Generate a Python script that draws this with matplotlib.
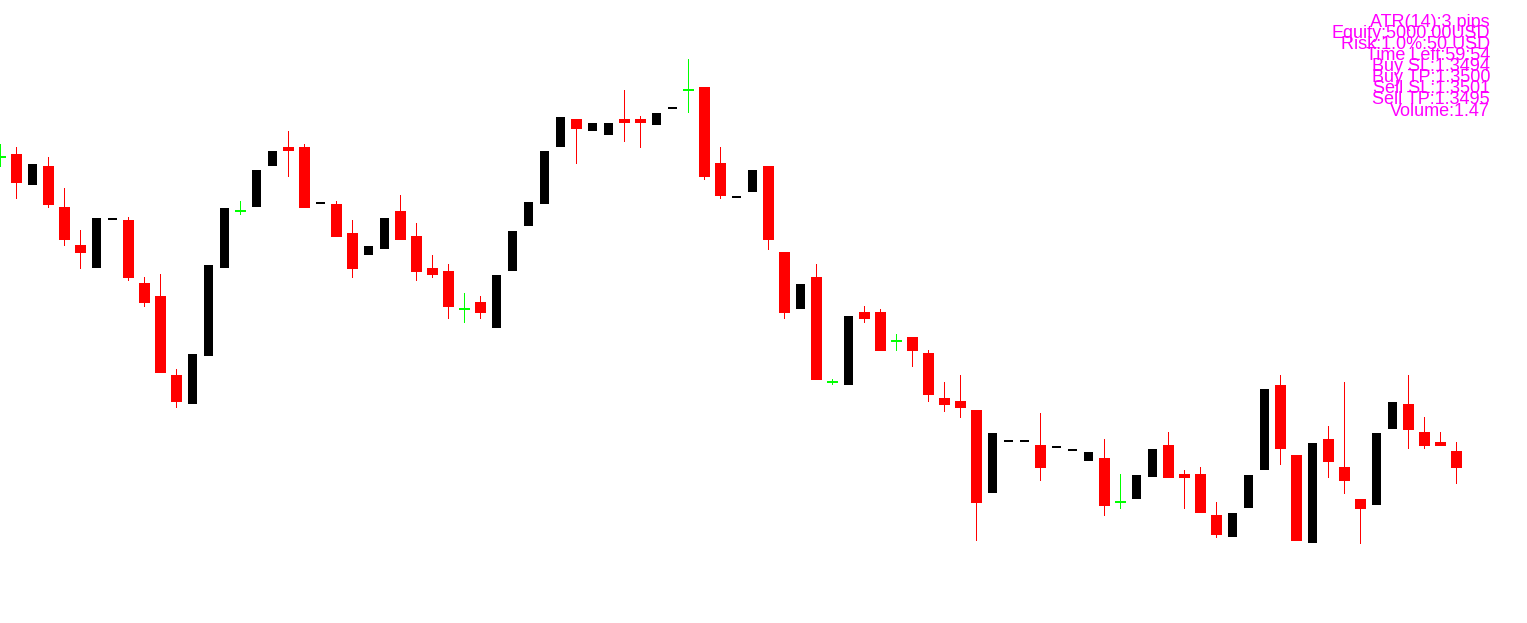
import matplotlib
matplotlib.use("Agg")
import matplotlib.pyplot as plt
import numpy as np

# OHLC data
opens = [1.35343, 1.35346, 1.35315, 1.35334, 1.35293, 1.35255, 1.35232, 1.35280, 1.35280, 1.35217,
         1.35204, 1.35125, 1.35096, 1.35144, 1.35232, 1.35289, 1.35293, 1.35334, 1.35353, 1.35353,
         1.35296, 1.35296, 1.35267, 1.35245, 1.35251, 1.35289, 1.35264, 1.35232, 1.35229, 1.35191,
         1.35198, 1.35172, 1.35229, 1.35274, 1.35296, 1.35353, 1.35381, 1.35369, 1.35365, 1.35381,
         1.35381, 1.35375, 1.35391, 1.35410, 1.35413, 1.35337, 1.35302, 1.35308, 1.35334, 1.35248,
         1.35191, 1.35223, 1.35118, 1.35115, 1.35188, 1.35188, 1.35159, 1.35163, 1.35147, 1.35102,
         1.35099, 1.35090, 1.35007, 1.35058, 1.35058, 1.35055, 1.35052, 1.35049, 1.35039, 1.35042,
         1.34998, 1.35001, 1.35023, 1.35055, 1.35026, 1.35026, 1.34985, 1.34963, 1.34992, 1.35030,
         1.35115, 1.35045, 1.34957, 1.35061, 1.35033, 1.35001, 1.34995, 1.35071, 1.35096, 1.35068,
         1.35058, 1.35049]
highs = [1.35356, 1.35353, 1.35336, 1.35343, 1.35312, 1.35270, 1.35282, 1.35282, 1.35283, 1.35223,
         1.35226, 1.35131, 1.35146, 1.35235, 1.35292, 1.35299, 1.35330, 1.35349, 1.35369, 1.35356,
         1.35298, 1.35299, 1.35280, 1.35254, 1.35282, 1.35305, 1.35277, 1.35245, 1.35236, 1.35207,
         1.35204, 1.35225, 1.35269, 1.35298, 1.35349, 1.35383, 1.35381, 1.35377, 1.35377, 1.35410,
         1.35384, 1.35387, 1.35393, 1.35441, 1.35413, 1.35353, 1.35304, 1.35330, 1.35334, 1.35248,
         1.35216, 1.35236, 1.35121, 1.35184, 1.35194, 1.35191, 1.35166, 1.35163, 1.35150, 1.35118,
         1.35125, 1.35090, 1.35067, 1.35060, 1.35060, 1.35087, 1.35054, 1.35051, 1.35048, 1.35061,
         1.35026, 1.35025, 1.35051, 1.35068, 1.35030, 1.35033, 1.34998, 1.34987, 1.35025, 1.35111,
         1.35125, 1.35045, 1.35057, 1.35074, 1.35118, 1.35001, 1.35067, 1.35098, 1.35125, 1.35083,
         1.35068, 1.35058]
lows = [1.35333, 1.35301, 1.35315, 1.35292, 1.35254, 1.35231, 1.35232, 1.35280, 1.35219, 1.35193,
        1.35127, 1.35092, 1.35096, 1.35144, 1.35232, 1.35285, 1.35293, 1.35334, 1.35323, 1.35292,
        1.35296, 1.35263, 1.35222, 1.35245, 1.35251, 1.35260, 1.35219, 1.35222, 1.35181, 1.35177,
        1.35181, 1.35172, 1.35229, 1.35274, 1.35296, 1.35353, 1.35336, 1.35369, 1.35365, 1.35358,
        1.35352, 1.35375, 1.35391, 1.35387, 1.35320, 1.35301, 1.35302, 1.35308, 1.35250, 1.35181,
        1.35191, 1.35120, 1.35115, 1.35115, 1.35177, 1.35149, 1.35149, 1.35133, 1.35098, 1.35088,
        1.35082, 1.34959, 1.35007, 1.35058, 1.35058, 1.35019, 1.35052, 1.35049, 1.35039, 1.34984,
        1.34991, 1.35001, 1.35023, 1.35022, 1.34991, 1.34987, 1.34962, 1.34963, 1.34992, 1.35030,
        1.35035, 1.34959, 1.34957, 1.35022, 1.35006, 1.34956, 1.34995, 1.35071, 1.35051, 1.35051,
        1.35054, 1.35016]
closes = [1.35343, 1.35317, 1.35336, 1.35295, 1.35260, 1.35247, 1.35282, 1.35282, 1.35222, 1.35197,
          1.35127, 1.35098, 1.35146, 1.35235, 1.35292, 1.35289, 1.35330, 1.35349, 1.35349, 1.35292,
          1.35298, 1.35263, 1.35231, 1.35254, 1.35282, 1.35260, 1.35228, 1.35225, 1.35193, 1.35191,
          1.35187, 1.35225, 1.35269, 1.35298, 1.35349, 1.35383, 1.35371, 1.35377, 1.35377, 1.35377,
          1.35377, 1.35387, 1.35393, 1.35410, 1.35323, 1.35304, 1.35304, 1.35330, 1.35260, 1.35187,
          1.35216, 1.35120, 1.35118, 1.35184, 1.35181, 1.35149, 1.35159, 1.35149, 1.35105, 1.35095,
          1.35092, 1.34997, 1.35067, 1.35060, 1.35060, 1.35032, 1.35054, 1.35051, 1.35048, 1.34994,
          1.34998, 1.35025, 1.35051, 1.35022, 1.35022, 1.34987, 1.34965, 1.34987, 1.35025, 1.35111,
          1.35051, 1.34959, 1.35057, 1.35038, 1.35019, 1.34991, 1.35067, 1.35098, 1.35070, 1.35054,
          1.35054, 1.35032]

info_lines = ["ATR(14):3 pips", "Equity:5000.00USD", "Risk:1.0%:50 USD", "Time Left:59:54",
              "Buy SL:1.3494", "Buy TP:1.3500", "Sell SL:1.3501", "Sell TP:1.3495", "Volume:1.47"]

W, H = 1527, 623
fig = plt.figure(figsize=(W / 100, H / 100), dpi=100)
fig.patch.set_facecolor("white")
ax = fig.add_axes([0, 0, 1, 1])
ax.set_axis_off()

o = np.array(opens); hi = np.array(highs); lo = np.array(lows); c = np.array(closes)
x = np.arange(len(o))
eps = 1e-9
bear = c < o - eps
bull = c > o + eps
doji = ~(bear | bull)

RED, BLACK, GREEN = "#FF0000", "#000000", "#00FF00"
px = 1 / 16.0      # one pixel in x data units
py = 1e-5          # one pixel in price units

common = dict(linewidth=0, antialiased=False)
# bearish: wick + body
ax.bar(x[bear], (hi - lo)[bear], bottom=lo[bear], width=1 * px, color=RED, zorder=1, **common)
ax.bar(x[bear], (o - c)[bear], bottom=c[bear], width=11 * px, color=RED, zorder=2, **common)
# bullish: body only
ax.bar(x[bull], (c - o)[bull], bottom=o[bull], width=9 * px, color=BLACK, zorder=2, **common)
# doji: green cross
ax.bar(x[doji], (hi - lo)[doji], bottom=lo[doji], width=1 * px, color=GREEN, zorder=2, **common)
ax.bar(x[doji], py, bottom=o[doji] - py / 2, width=11 * px, color=GREEN, zorder=2, **common)

xmin = -0.5 / 16
ax.set_xlim(xmin, xmin + W / 16)
ax.set_ylim(1.35500 - H * py, 1.35500)

for k, t in enumerate(info_lines):
    ybase = 26.8 + 11.1 * k
    fig.text(1490, H - ybase, t, transform=None, ha="right", va="baseline",
             color="#FF00FF", fontsize=13, family="Liberation Sans")

fig.savefig("out.png", dpi=100, facecolor="white")
